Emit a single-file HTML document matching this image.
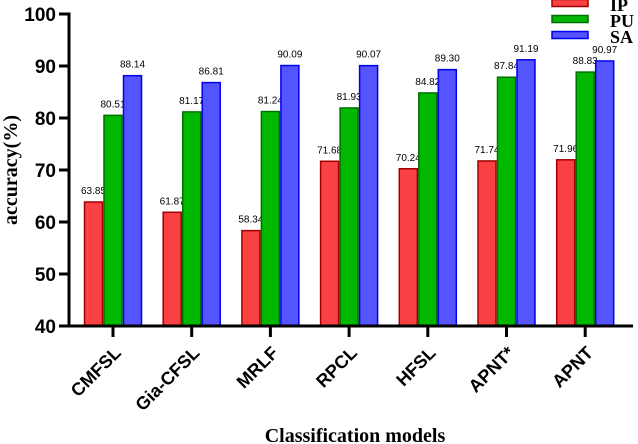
<!DOCTYPE html>
<html><head><meta charset="utf-8"><style>
html,body{margin:0;padding:0;background:#fff;}
svg{display:block;}
</style></head><body>
<svg id="chart" width="638" height="444" xmlns="http://www.w3.org/2000/svg"></svg>
<script>
const categories = ["CMFSL","Gia-CFSL","MRLF","RPCL","HFSL","APNT*","APNT"];
const ipValues = [63.85,61.87,58.34,71.68,70.24,71.74,71.96];
const puValues = [80.51,81.17,81.24,81.93,84.82,87.84,88.83];
const saValues = [88.14,86.81,90.09,90.07,89.30,91.19,90.97];
const yTicks = [40,50,60,70,80,90,100];
const seriesNames = ["IP","PU","SA"];

const svg = document.getElementById('chart');
const NS = 'http://www.w3.org/2000/svg';
function mk(tag, attrs, text){
  const e = document.createElementNS(NS, tag);
  for (const k in attrs) e.setAttribute(k, attrs[k]);
  if (text !== undefined) e.textContent = text;
  svg.appendChild(e);
  return e;
}
const y0 = 326, y1 = 14, vMin = 40, vMax = 100;
function yScale(v){ return y0 - (v - vMin) * (y0 - y1) / (vMax - vMin); }
function xCenter(i){ return 113 + i * 78.7; }
const barW = 19.5;
const fills = ["#f94144","#00b800","#5555ff"];
const strokes = ["#a00000","#007000","#0000ee"];
const series = [ipValues, puValues, saValues];

series.forEach((vals, s) => {
  vals.forEach((v, i) => {
    const x = xCenter(i) + (s - 1) * barW - barW / 2;
    const r = mk('rect', {x: x + 0.75, y: yScale(v), width: barW - 1.5, height: y0 - yScale(v),
      fill: fills[s], stroke: strokes[s], 'stroke-width': 1.5});
    
    
    const t = mk('text', {x: x + barW / 2, y: yScale(v) - 8, 'text-anchor': 'middle',
      'font-family': 'Liberation Sans, sans-serif', 'font-size': 10, fill: '#000'}, v.toFixed(2));
    
    
  });
});

const ya = mk('line', {x1: 69, y1: y1 - 1.5, x2: 69, y2: y0 + 1.5, stroke: '#000', 'stroke-width': 3});


yTicks.forEach(v => {
  const l = mk('line', {x1: 59, y1: yScale(v), x2: 69, y2: yScale(v), stroke: '#000', 'stroke-width': 3});
  
  
  const t = mk('text', {x: 56, y: yScale(v) + 7, 'text-anchor': 'end', 'font-family': 'Liberation Sans, sans-serif',
    'font-size': 19, 'font-weight': 'bold'}, v);
  
  
});
const xa = mk('line', {x1: 59, y1: y0, x2: 633, y2: y0, stroke: '#000', 'stroke-width': 3});


categories.forEach((c, i) => {
  const x = xCenter(i);
  const l = mk('line', {x1: x, y1: y0, x2: x, y2: y0 + 11, stroke: '#000', 'stroke-width': 3});
  
  
  const lx = x + 9, ly = y0 + 28;
  const t = mk('text', {x: lx, y: ly, 'text-anchor': 'end', 'font-family': 'Liberation Sans, sans-serif',
    'font-size': 18, 'font-weight': 'bold', transform: 'rotate(-45 ' + lx + ' ' + ly + ')'}, c);
  
  
});
const xt = mk('text', {x: 355, y: 442, 'text-anchor': 'middle', 'font-family': 'Liberation Serif, serif',
  'font-size': 20, 'font-weight': 'bold'}, 'Classification models');


const yt = mk('text', {x: 0, y: 0, 'text-anchor': 'middle', 'font-family': 'Liberation Serif, serif',
  'font-size': 20, 'font-weight': 'bold', transform: 'translate(17 170) rotate(-90)'}, 'accuracy(%)');


seriesNames.forEach((n, s) => {
  const yy = 0 + s * 16;
  const r = mk('rect', {x: 552, y: yy - 0.5, width: 36, height: 7, fill: fills[s], stroke: strokes[s], 'stroke-width': 1.5});
  
  
  const t = mk('text', {x: 610, y: yy + 11, 'font-family': 'Liberation Serif, serif', 'font-size': 18,
    'font-weight': 'bold'}, n);
  
  
});
</script>
</body></html>
